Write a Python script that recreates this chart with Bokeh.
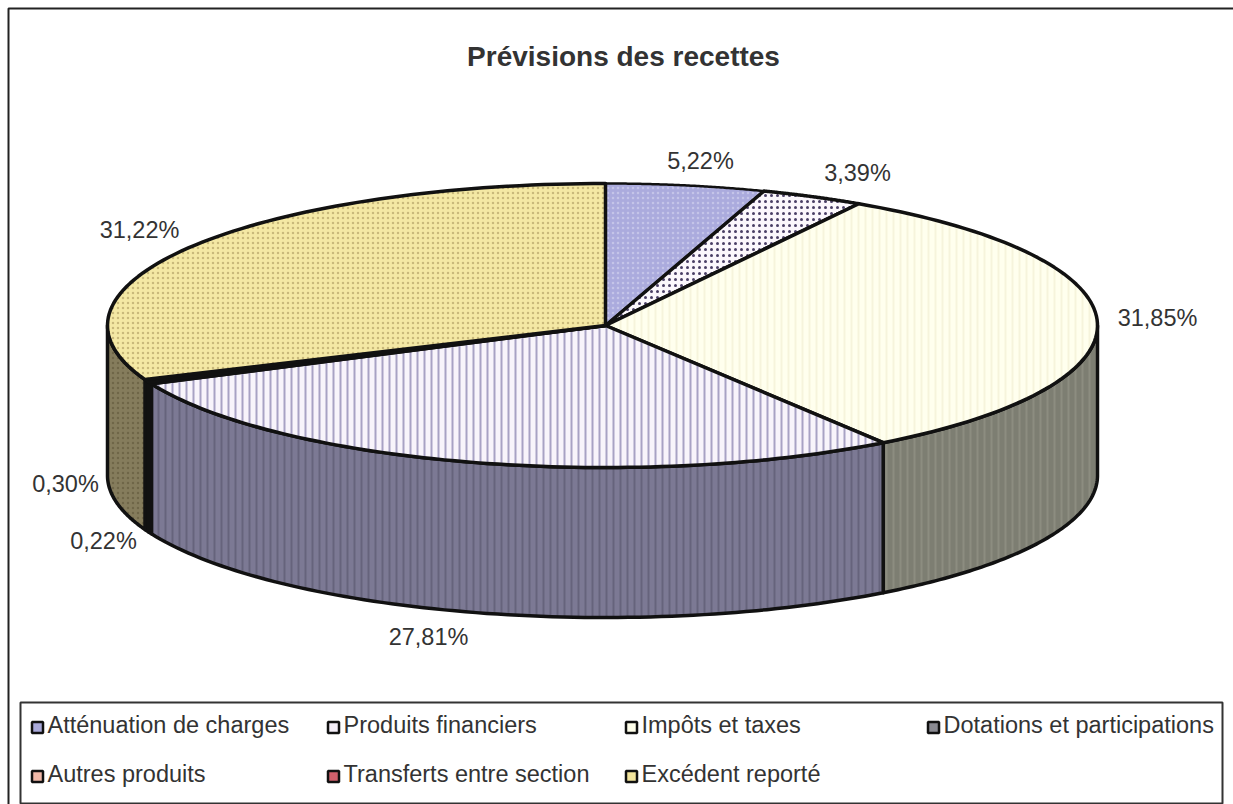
import numpy as np
from bokeh.plotting import figure
from bokeh.embed import file_html
from bokeh.resources import INLINE
from bokeh.models import Range1d
from bokeh.core.properties import value

TITLE = "Prévisions des recettes"
categories = ["Atténuation de charges", "Produits financiers", "Impôts et taxes",
              "Dotations et participations", "Autres produits", "Transferts entre section", "Excédent reporté"]
shares = [5.22, 3.39, 31.85, 27.81, 0.22, 0.30, 31.22]
share_labels = ["5,22%", "3,39%", "31,85%", "27,81%", "0,22%", "0,30%", "31,22%"]

top_fill = ["#ABABDD", "#FBF7FC", "#FFFFEE", "#F8F4FB", "#141414", "#141414", "#F4E8A4"]
top_hatch = ["#C4C4E8", "#4A3F66", "#F6F4DC", "#A8A2C4", None, None, "#C9B97A"]
pattern = ["dot", "dot", "vertical_line", "vertical_line", None, None, "dot"]
hatch_step = [5, 6, 7, 7, 5, 5, 5]
dot_weight = [1.2, 0.8, 2, 2, 1, 1, 1.2]
side_fill = ["#777", "#777", "#7D7E72", "#7C7994", "#141414", "#141414", "#857C5C"]
side_hatch = [None, None, "#8C8D80", "#66637C", None, None, "#6E6648"]
legend_fill = ["#A9A9DA", "#F4EEF8", "#FFFFEA", "#8A8A92", "#F0B8A8", "#D0606C", "#F2E49C"]

CX, CY, RX_RIGHT, RX_LEFT, RY, DEPTH = 605, 325, 492, 498, 142, 150
label_xy = [(700, 160), (857, 172), (1157, 317), (428, 636), (103, 540), (65, 483), (139, 229)]
legend_col = [37, 333, 631, 933, 37, 333, 631]
legend_row = [727, 727, 727, 727, 776, 776, 776]

W, H = 1233, 804
p = figure(width=W, height=H, x_range=Range1d(0, W), y_range=Range1d(H, 0),
           output_backend="svg", toolbar_location=None, min_border=0, outline_line_color=None,
           background_fill_color="white", border_fill_color="white")
p.axis.visible = False
p.grid.visible = False

def rim(a, b, n=80):
    t = np.radians(np.linspace(a, b, n))
    s = np.sin(t)
    return CX + s * np.where(s > 0, RX_RIGHT, RX_LEFT), CY - RY * np.cos(t)

FONT = value("Liberation Sans")
p.line([8, 8, 1233], [804, 8, 8], line_color="#222", line_width=2)

edges = np.concatenate([[0], np.cumsum(shares)]) * 360 / sum(shares)

# side walls
for i in range(len(shares)):
    a, b = max(edges[i], 90), min(edges[i + 1], 270)
    if a >= b:
        continue
    x, y = rim(a, b)
    px = np.concatenate([x, x[::-1]])
    py = np.concatenate([y, y[::-1] + DEPTH])
    kw = dict(line_color="#111", line_width=3.5, line_join="round", fill_color=side_fill[i])
    if side_hatch[i]:
        kw.update(hatch_pattern=pattern[i], hatch_color=side_hatch[i], hatch_scale=hatch_step[i], hatch_weight=2)
    p.patch(px, py, **kw)

# top faces
for i in range(len(shares)):
    x, y = rim(edges[i], edges[i + 1])
    px = np.concatenate([[CX], x])
    py = np.concatenate([[CY], y])
    kw = dict(line_color="#111", line_width=3.5 if i else 2.5, line_join="round", fill_color=top_fill[i])
    if pattern[i]:
        kw.update(hatch_pattern=pattern[i], hatch_color=top_hatch[i],
                  hatch_scale=hatch_step[i], hatch_weight=dot_weight[i])
    p.patch(px, py, **kw)

# title and labels
p.text([623], [56], text=[TITLE], text_font=FONT, text_font_size="28px", text_font_style="bold",
       text_align="center", text_baseline="middle", text_color="#333")
p.text([c[0] for c in label_xy], [c[1] for c in label_xy], text=share_labels, text_font=FONT,
       text_font_size="23.5px", text_align="center", text_baseline="middle", text_color="#333")

# legend
p.patch([20, 1222, 1222, 20], [702, 702, 803, 803], fill_color="white", line_color="#333", line_width=2)
p.scatter(legend_col, legend_row, marker="square", size=11, fill_color=legend_fill,
          line_color="#111", line_width=2.5)
p.text([c + 10 for c in legend_col], [r - 3 for r in legend_row], text=categories, text_font=FONT,
       text_font_size="23.5px", text_align="left", text_baseline="middle", text_color="#333")

open("out.html", "w").write(file_html(p, INLINE))
